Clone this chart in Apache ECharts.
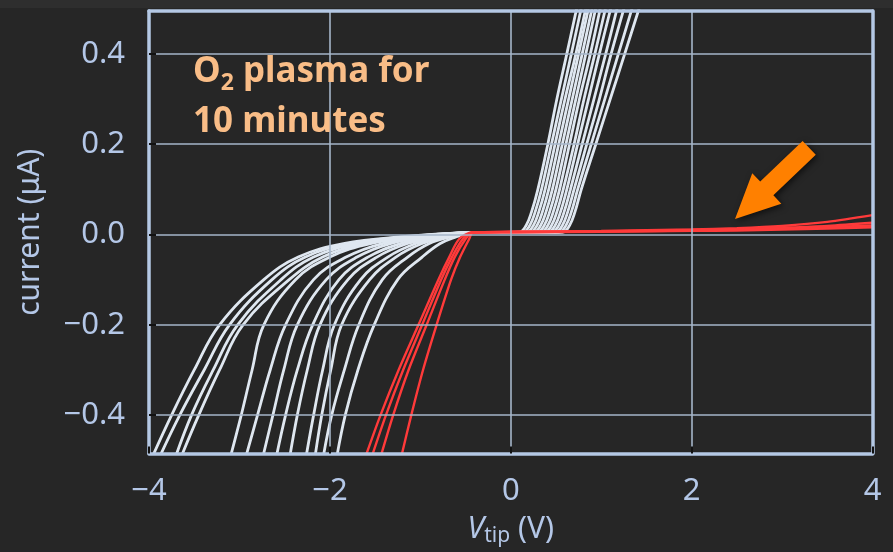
<!DOCTYPE html>
<html><head><meta charset="utf-8">
<script src="https://cdn.jsdelivr.net/npm/echarts@6/dist/echarts.min.js"></script>
<style>html,body{margin:0;padding:0;background:#262626;overflow:hidden}#c{width:893px;height:552px}</style>
</head><body><div id="c"></div>
<script>
// ---- tick labels ----
const xTicks = [-4, -2, 0, 2, 4];
const yTicks = [-0.4, -0.2, 0, 0.2, 0.4];

// ---- white (reference) sweeps: negative branch, x read at these current levels ----
const negLevelsW = [-0.5, -0.4, -0.3, -0.2, -0.1, -0.05, -0.02, -0.005];
const whiteNegX = [
  [-3.98, -3.75, -3.50, -3.22, -2.73, -2.35, -1.85, -1.20],
  [-3.90, -3.66, -3.39, -3.11, -2.64, -2.27, -1.78, -1.15],
  [-3.72, -3.53, -3.29, -3.02, -2.54, -2.18, -1.70, -1.10],
  [-3.66, -3.45, -3.22, -2.96, -2.45, -2.08, -1.62, -1.05],
  [-3.11, -2.98, -2.86, -2.73, -2.38, -2.00, -1.55, -1.00],
  [-2.94, -2.80, -2.66, -2.49, -2.18, -1.82, -1.42, -0.95],
  [-2.75, -2.63, -2.51, -2.36, -2.04, -1.70, -1.33, -0.90],
  [-2.60, -2.49, -2.36, -2.19, -1.90, -1.58, -1.22, -0.85],
  [-2.45, -2.36, -2.25, -2.11, -1.80, -1.48, -1.14, -0.80],
  [-2.27, -2.18, -2.08, -1.95, -1.66, -1.36, -1.05, -0.75],
  [-2.17, -2.09, -1.99, -1.87, -1.56, -1.27, -0.98, -0.70],
  [-2.08, -1.98, -1.84, -1.68, -1.42, -1.14, -0.90, -0.66],
  [-1.93, -1.83, -1.69, -1.51, -1.25, -0.98, -0.78, -0.60]
];
const whiteJoin = [-0.45, 0.004];
// positive branch, x read at these current levels
const posLevelsW = [0.005, 0.02, 0.05, 0.1, 0.2, 0.3, 0.4, 0.52];
const whitePosX = [
  [0.09, 0.17, 0.23, 0.30, 0.41, 0.51, 0.62, 0.75],
  [0.13, 0.21, 0.27, 0.34, 0.45, 0.56, 0.67, 0.80],
  [0.17, 0.25, 0.31, 0.38, 0.49, 0.60, 0.72, 0.85],
  [0.21, 0.29, 0.35, 0.42, 0.53, 0.64, 0.75, 0.88],
  [0.25, 0.33, 0.39, 0.46, 0.57, 0.68, 0.79, 0.92],
  [0.29, 0.37, 0.43, 0.50, 0.61, 0.72, 0.83, 0.96],
  [0.33, 0.41, 0.47, 0.54, 0.65, 0.76, 0.88, 1.01],
  [0.37, 0.45, 0.51, 0.58, 0.70, 0.81, 0.93, 1.07],
  [0.41, 0.49, 0.55, 0.62, 0.74, 0.86, 0.98, 1.13],
  [0.45, 0.53, 0.59, 0.66, 0.79, 0.92, 1.05, 1.20],
  [0.49, 0.57, 0.63, 0.70, 0.84, 0.98, 1.11, 1.28],
  [0.53, 0.61, 0.67, 0.74, 0.89, 1.04, 1.19, 1.37],
  [0.57, 0.65, 0.71, 0.78, 0.94, 1.10, 1.26, 1.45]
];

// ---- red (O2 plasma) sweeps ----
const negLevelsR = [-0.5, -0.4, -0.3, -0.2, -0.1, -0.05, -0.01];
const redNegX = [
  [-1.62, -1.44, -1.24, -1.02, -0.80, -0.68, -0.57],
  [-1.55, -1.38, -1.19, -0.98, -0.77, -0.65, -0.53],
  [-1.45, -1.30, -1.13, -0.93, -0.73, -0.62, -0.50],
  [-1.22, -1.10, -0.97, -0.82, -0.66, -0.56, -0.46]
];
const redPosX = [-0.42, 0, 1, 2, 2.5, 3, 3.5, 4];
const redPosY = [
  [0.005, 0.006, 0.008, 0.011, 0.014, 0.019, 0.028, 0.043],
  [0.005, 0.006, 0.007, 0.010, 0.012, 0.015, 0.019, 0.026],
  [0.005, 0.005, 0.007, 0.009, 0.011, 0.013, 0.016, 0.020],
  [0.004, 0.005, 0.006, 0.008, 0.009, 0.011, 0.013, 0.016]
];

// ---- arrow annotation: [tailX, tailY, tipX, tipY] ----
const arrowData = [3.30, 0.192, 2.48, 0.0345];

// ---- build series ----
const WHITE = '#dfe7f0', RED = '#ff3a3a', LABEL = '#b4c7e7';
const series = [];
whiteNegX.forEach((xs, i) => {
  const pts = negLevelsW.map((y, k) => [xs[k], y]);
  pts.push(whiteJoin.slice());
  posLevelsW.forEach((y, k) => pts.push([whitePosX[i][k], y]));
  series.push({type: 'line', data: pts, showSymbol: false, smooth: 0.4,
    lineStyle: {color: WHITE, width: 2.8}, z: 2, silent: true});
});
redNegX.forEach((xs, i) => {
  const pts = negLevelsR.map((y, k) => [xs[k], y]);
  redPosX.forEach((x, k) => pts.push([x, redPosY[i][k]]));
  series.push({type: 'line', data: pts, showSymbol: false, smooth: 0.3,
    lineStyle: {color: RED, width: 2.4}, z: 3, silent: true});
});
series.push({
  type: 'custom', coordinateSystem: 'cartesian2d', clip: false, z: 10, silent: true,
  encode: {x: [0, 2], y: [1, 3]},
  data: [arrowData],
  renderItem: function (params, api) {
    const p0 = api.coord([api.value(0), api.value(1)]);
    const p1 = api.coord([api.value(2), api.value(3)]);
    const dx = p1[0] - p0[0], dy = p1[1] - p0[1];
    const L = Math.sqrt(dx * dx + dy * dy);
    const ux = dx / L, uy = dy / L, nx = -uy, ny = ux;
    const sw = 9.5, hw = 21, hl = 44;
    const bx = p1[0] - ux * hl, by = p1[1] - uy * hl;
    const pts = [
      [p0[0] + nx * sw, p0[1] + ny * sw],
      [bx + nx * sw, by + ny * sw],
      [bx + nx * hw, by + ny * hw],
      [p1[0], p1[1]],
      [bx - nx * hw, by - ny * hw],
      [bx - nx * sw, by - ny * sw],
      [p0[0] - nx * sw, p0[1] - ny * sw]
    ];
    return {type: 'polygon', shape: {points: pts},
      style: {fill: '#ff8000', shadowBlur: 6, shadowColor: 'rgba(0,0,0,0.6)', shadowOffsetX: 2, shadowOffsetY: 2}};
  }
});

const fmtY = v => (v < 0 ? '\u2212' : '') + Math.abs(v).toFixed(1);
const fmtX = v => (v < 0 ? '\u2212' : '') + Math.abs(v);
const FONT = 'Noto Sans';
const gridLine = {show: true, lineStyle: {color: '#a6b6ca', width: 1.6}};
const tick = {show: true, inside: true, length: 7, lineStyle: {color: '#111', width: 2}};

const option = {
  backgroundColor: '#262626',
  animation: false,
  title: {
    left: 193, top: 47, padding: 0,
    text: '{a|O}{s|2}{a| plasma for}\n{a|10 minutes}',
    textStyle: {
      rich: {
        a: {fontFamily: FONT, fontWeight: 'bold', fontSize: 35, color: '#f9bd87', lineHeight: 50},
        s: {fontFamily: FONT, fontWeight: 'bold', fontSize: 23, color: '#f9bd87', lineHeight: 28, padding: [22, 0, 0, 0]}
      }
    }
  },
  graphic: [{type: 'rect', left: 0, top: 0, shape: {width: 893, height: 8}, style: {fill: '#2e2e2e'}, z: -1}],
  grid: {left: 149, right: 20.5, top: 11, bottom: 95.5, containLabel: false},
  xAxis: [{
    type: 'value', min: -4, max: 4, z: 5,
    axisLine: {show: true, onZero: false, lineStyle: {color: '#b4c8e4', width: 3.5}},
    axisTick: Object.assign({customValues: xTicks}, tick),
    splitLine: gridLine,
    axisLabel: {customValues: xTicks, formatter: fmtX, color: LABEL, fontSize: 31, fontFamily: FONT, margin: 22},
    name: '{v|V}{s|tip}{n| (V)}', nameLocation: 'middle', nameGap: 58,
    nameTextStyle: {rich: {
      v: {fontFamily: FONT, fontStyle: 'italic', fontSize: 30, color: LABEL, lineHeight: 36},
      s: {fontFamily: FONT, fontSize: 21, color: LABEL, lineHeight: 26, padding: [14, 0, 0, 0]},
      n: {fontFamily: FONT, fontSize: 30, color: LABEL, lineHeight: 36}
    }}
  }, {
    type: 'value', min: -4, max: 4, position: 'top', z: 5,
    axisLine: {show: true, onZero: false, lineStyle: {color: '#b4c8e4', width: 3.5}},
    axisTick: {show: false}, axisLabel: {show: false}, splitLine: {show: false}
  }],
  yAxis: [{
    type: 'value', min: -0.485, max: 0.495, z: 5,
    axisLine: {show: true, onZero: false, lineStyle: {color: '#b4c8e4', width: 3.5}},
    axisTick: Object.assign({customValues: yTicks}, tick),
    splitLine: gridLine,
    axisLabel: {customValues: yTicks, formatter: fmtY, color: LABEL, fontSize: 31, fontFamily: FONT, margin: 24},
    name: 'current (\u03bcA)', nameLocation: 'middle', nameGap: 104,
    nameTextStyle: {color: LABEL, fontSize: 30, fontFamily: FONT}
  }, {
    type: 'value', min: -0.485, max: 0.495, position: 'right', z: 5,
    axisLine: {show: true, onZero: false, lineStyle: {color: '#b4c8e4', width: 3.5}},
    axisTick: {show: false}, axisLabel: {show: false}, splitLine: {show: false}
  }],
  series: series
};
const chart = echarts.init(document.getElementById('c'), null, {renderer: 'canvas'});
chart.setOption(option);
</script>
</body></html>
